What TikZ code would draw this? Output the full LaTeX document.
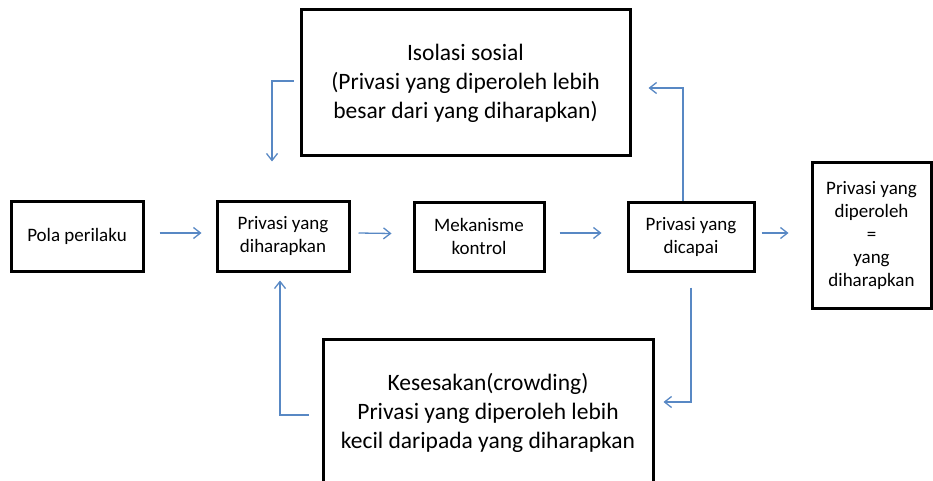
\documentclass[tikz,border=0pt]{standalone}
\usepackage{fontspec}
\setmainfont{Carlito}
\usetikzlibrary{arrows.meta}
\definecolor{arrblue}{RGB}{88,136,196}
\begin{document}
\begin{tikzpicture}[x=1pt,y=-1pt,
  box/.style={draw=black,line width=3pt,align=center,inner sep=0pt},
  sbox/.style={box,font=\fontsize{19}{23}\selectfont},
  bbox/.style={box,font=\fontsize{23.5}{29}\selectfont},
  arr/.style={draw=arrblue,line width=1.3pt,-{Straight Barb[length=7pt,width=11pt]}}]
\useasboundingbox (0,0) rectangle (933,481);
\clip (0,0) rectangle (933,481);
\node[sbox,minimum width=132pt,minimum height=70pt] (A) at (77,236) {Pola perilaku};
\node[sbox,minimum width=132pt,minimum height=70pt] (B) at (283,236) {Privasi yang\\diharapkan};
\node[sbox,minimum width=130pt,minimum height=69pt] (C) at (479,236.5) {Mekanisme\\kontrol};
\node[sbox,minimum width=126pt,minimum height=69pt] (D) at (691,236.5) {Privasi yang\\dicapai};
\node[sbox,minimum width=119pt,minimum height=145pt] (E) at (871.5,235.5) {Privasi yang\\diperoleh\\=\\yang\\diharapkan};
\node[bbox,minimum width=329pt,minimum height=146pt] (T) at (465.5,83) {Isolasi sosial\\(Privasi yang diperoleh lebih\\besar dari yang diharapkan)};
\node[bbox,minimum width=330pt,minimum height=148pt] (K) at (488,413) {Kesesakan(crowding)\\Privasi yang diperoleh lebih\\kecil daripada yang diharapkan};
\draw[arr] ([shift={(15,-3)}]A.east) -- ([shift={(-14,-3)}]B.west);
\draw[arr] ([shift={(8,-3)}]B.east) -- ([shift={(-21,-3)}]C.west);
\draw[arr] ([shift={(14,-3.5)}]C.east) -- ([shift={(-25,-3.5)}]D.west);
\draw[arr] ([shift={(6,-3.5)}]D.east) -- ([shift={(-22,-2.5)}]E.west);
\draw[arr] ([xshift=-8pt]D.north) |- ([shift={(17,5)}]T.east);
\draw[arr] ([shift={(-6,-2)}]T.west) -| ([shift={(-11,-38)}]B.north);
\draw[arr] ([shift={(0,15)}]D.south) |- ([shift={(9,-11)}]K.east);
\draw[arr] ([shift={(-13,2)}]K.west) -| ([shift={(-3,8)}]B.south);
\end{tikzpicture}
\end{document}
